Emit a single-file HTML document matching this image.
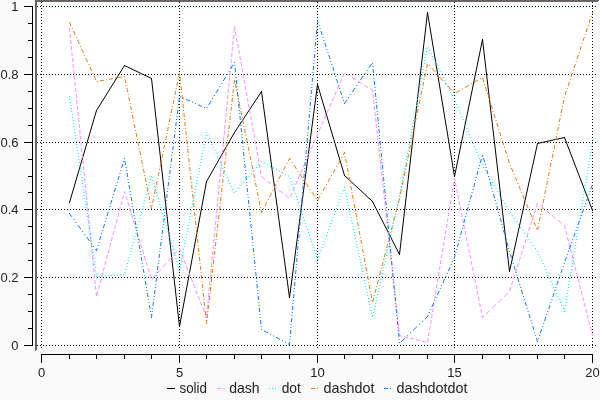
<!DOCTYPE html><html><head><meta charset="utf-8"><style>html,body{margin:0;padding:0;background:#fafafa;width:600px;height:400px;overflow:hidden;position:relative}svg,canvas{display:block;position:absolute;left:0;top:0;will-change:transform}text{font-family:"Liberation Sans",sans-serif;fill:#222222}</style></head><body>
<svg width="600" height="400" viewBox="0 0 600 400">
<rect x="35" y="0" width="563" height="350" fill="#ffffff"/>
<path fill="#000" d="M37 345h1v1h-1zM40 345h1v1h-1zM43 345h1v1h-1zM46 345h1v1h-1zM49 345h1v1h-1zM52 345h1v1h-1zM55 345h1v1h-1zM58 345h1v1h-1zM61 345h1v1h-1zM64 345h1v1h-1zM67 345h1v1h-1zM70 345h1v1h-1zM73 345h1v1h-1zM76 345h1v1h-1zM79 345h1v1h-1zM82 345h1v1h-1zM85 345h1v1h-1zM88 345h1v1h-1zM91 345h1v1h-1zM94 345h1v1h-1zM97 345h1v1h-1zM100 345h1v1h-1zM103 345h1v1h-1zM106 345h1v1h-1zM109 345h1v1h-1zM112 345h1v1h-1zM115 345h1v1h-1zM118 345h1v1h-1zM121 345h1v1h-1zM124 345h1v1h-1zM127 345h1v1h-1zM130 345h1v1h-1zM133 345h1v1h-1zM136 345h1v1h-1zM139 345h1v1h-1zM142 345h1v1h-1zM145 345h1v1h-1zM148 345h1v1h-1zM151 345h1v1h-1zM154 345h1v1h-1zM157 345h1v1h-1zM160 345h1v1h-1zM163 345h1v1h-1zM166 345h1v1h-1zM169 345h1v1h-1zM172 345h1v1h-1zM175 345h1v1h-1zM178 345h1v1h-1zM181 345h1v1h-1zM184 345h1v1h-1zM187 345h1v1h-1zM190 345h1v1h-1zM193 345h1v1h-1zM196 345h1v1h-1zM199 345h1v1h-1zM202 345h1v1h-1zM205 345h1v1h-1zM208 345h1v1h-1zM211 345h1v1h-1zM214 345h1v1h-1zM217 345h1v1h-1zM220 345h1v1h-1zM223 345h1v1h-1zM226 345h1v1h-1zM229 345h1v1h-1zM232 345h1v1h-1zM235 345h1v1h-1zM238 345h1v1h-1zM241 345h1v1h-1zM244 345h1v1h-1zM247 345h1v1h-1zM250 345h1v1h-1zM253 345h1v1h-1zM256 345h1v1h-1zM259 345h1v1h-1zM262 345h1v1h-1zM265 345h1v1h-1zM268 345h1v1h-1zM271 345h1v1h-1zM274 345h1v1h-1zM277 345h1v1h-1zM280 345h1v1h-1zM283 345h1v1h-1zM286 345h1v1h-1zM289 345h1v1h-1zM292 345h1v1h-1zM295 345h1v1h-1zM298 345h1v1h-1zM301 345h1v1h-1zM304 345h1v1h-1zM307 345h1v1h-1zM310 345h1v1h-1zM313 345h1v1h-1zM316 345h1v1h-1zM319 345h1v1h-1zM322 345h1v1h-1zM325 345h1v1h-1zM328 345h1v1h-1zM331 345h1v1h-1zM334 345h1v1h-1zM337 345h1v1h-1zM340 345h1v1h-1zM343 345h1v1h-1zM346 345h1v1h-1zM349 345h1v1h-1zM352 345h1v1h-1zM355 345h1v1h-1zM358 345h1v1h-1zM361 345h1v1h-1zM364 345h1v1h-1zM367 345h1v1h-1zM370 345h1v1h-1zM373 345h1v1h-1zM376 345h1v1h-1zM379 345h1v1h-1zM382 345h1v1h-1zM385 345h1v1h-1zM388 345h1v1h-1zM391 345h1v1h-1zM394 345h1v1h-1zM397 345h1v1h-1zM400 345h1v1h-1zM403 345h1v1h-1zM406 345h1v1h-1zM409 345h1v1h-1zM412 345h1v1h-1zM415 345h1v1h-1zM418 345h1v1h-1zM421 345h1v1h-1zM424 345h1v1h-1zM427 345h1v1h-1zM430 345h1v1h-1zM433 345h1v1h-1zM436 345h1v1h-1zM439 345h1v1h-1zM442 345h1v1h-1zM445 345h1v1h-1zM448 345h1v1h-1zM451 345h1v1h-1zM454 345h1v1h-1zM457 345h1v1h-1zM460 345h1v1h-1zM463 345h1v1h-1zM466 345h1v1h-1zM469 345h1v1h-1zM472 345h1v1h-1zM475 345h1v1h-1zM478 345h1v1h-1zM481 345h1v1h-1zM484 345h1v1h-1zM487 345h1v1h-1zM490 345h1v1h-1zM493 345h1v1h-1zM496 345h1v1h-1zM499 345h1v1h-1zM502 345h1v1h-1zM505 345h1v1h-1zM508 345h1v1h-1zM511 345h1v1h-1zM514 345h1v1h-1zM517 345h1v1h-1zM520 345h1v1h-1zM523 345h1v1h-1zM526 345h1v1h-1zM529 345h1v1h-1zM532 345h1v1h-1zM535 345h1v1h-1zM538 345h1v1h-1zM541 345h1v1h-1zM544 345h1v1h-1zM547 345h1v1h-1zM550 345h1v1h-1zM553 345h1v1h-1zM556 345h1v1h-1zM559 345h1v1h-1zM562 345h1v1h-1zM565 345h1v1h-1zM568 345h1v1h-1zM571 345h1v1h-1zM574 345h1v1h-1zM577 345h1v1h-1zM580 345h1v1h-1zM583 345h1v1h-1zM586 345h1v1h-1zM589 345h1v1h-1zM592 345h1v1h-1zM595 345h1v1h-1zM37 277h1v1h-1zM40 277h1v1h-1zM43 277h1v1h-1zM46 277h1v1h-1zM49 277h1v1h-1zM52 277h1v1h-1zM55 277h1v1h-1zM58 277h1v1h-1zM61 277h1v1h-1zM64 277h1v1h-1zM67 277h1v1h-1zM70 277h1v1h-1zM73 277h1v1h-1zM76 277h1v1h-1zM79 277h1v1h-1zM82 277h1v1h-1zM85 277h1v1h-1zM88 277h1v1h-1zM91 277h1v1h-1zM94 277h1v1h-1zM97 277h1v1h-1zM100 277h1v1h-1zM103 277h1v1h-1zM106 277h1v1h-1zM109 277h1v1h-1zM112 277h1v1h-1zM115 277h1v1h-1zM118 277h1v1h-1zM121 277h1v1h-1zM124 277h1v1h-1zM127 277h1v1h-1zM130 277h1v1h-1zM133 277h1v1h-1zM136 277h1v1h-1zM139 277h1v1h-1zM142 277h1v1h-1zM145 277h1v1h-1zM148 277h1v1h-1zM151 277h1v1h-1zM154 277h1v1h-1zM157 277h1v1h-1zM160 277h1v1h-1zM163 277h1v1h-1zM166 277h1v1h-1zM169 277h1v1h-1zM172 277h1v1h-1zM175 277h1v1h-1zM178 277h1v1h-1zM181 277h1v1h-1zM184 277h1v1h-1zM187 277h1v1h-1zM190 277h1v1h-1zM193 277h1v1h-1zM196 277h1v1h-1zM199 277h1v1h-1zM202 277h1v1h-1zM205 277h1v1h-1zM208 277h1v1h-1zM211 277h1v1h-1zM214 277h1v1h-1zM217 277h1v1h-1zM220 277h1v1h-1zM223 277h1v1h-1zM226 277h1v1h-1zM229 277h1v1h-1zM232 277h1v1h-1zM235 277h1v1h-1zM238 277h1v1h-1zM241 277h1v1h-1zM244 277h1v1h-1zM247 277h1v1h-1zM250 277h1v1h-1zM253 277h1v1h-1zM256 277h1v1h-1zM259 277h1v1h-1zM262 277h1v1h-1zM265 277h1v1h-1zM268 277h1v1h-1zM271 277h1v1h-1zM274 277h1v1h-1zM277 277h1v1h-1zM280 277h1v1h-1zM283 277h1v1h-1zM286 277h1v1h-1zM289 277h1v1h-1zM292 277h1v1h-1zM295 277h1v1h-1zM298 277h1v1h-1zM301 277h1v1h-1zM304 277h1v1h-1zM307 277h1v1h-1zM310 277h1v1h-1zM313 277h1v1h-1zM316 277h1v1h-1zM319 277h1v1h-1zM322 277h1v1h-1zM325 277h1v1h-1zM328 277h1v1h-1zM331 277h1v1h-1zM334 277h1v1h-1zM337 277h1v1h-1zM340 277h1v1h-1zM343 277h1v1h-1zM346 277h1v1h-1zM349 277h1v1h-1zM352 277h1v1h-1zM355 277h1v1h-1zM358 277h1v1h-1zM361 277h1v1h-1zM364 277h1v1h-1zM367 277h1v1h-1zM370 277h1v1h-1zM373 277h1v1h-1zM376 277h1v1h-1zM379 277h1v1h-1zM382 277h1v1h-1zM385 277h1v1h-1zM388 277h1v1h-1zM391 277h1v1h-1zM394 277h1v1h-1zM397 277h1v1h-1zM400 277h1v1h-1zM403 277h1v1h-1zM406 277h1v1h-1zM409 277h1v1h-1zM412 277h1v1h-1zM415 277h1v1h-1zM418 277h1v1h-1zM421 277h1v1h-1zM424 277h1v1h-1zM427 277h1v1h-1zM430 277h1v1h-1zM433 277h1v1h-1zM436 277h1v1h-1zM439 277h1v1h-1zM442 277h1v1h-1zM445 277h1v1h-1zM448 277h1v1h-1zM451 277h1v1h-1zM454 277h1v1h-1zM457 277h1v1h-1zM460 277h1v1h-1zM463 277h1v1h-1zM466 277h1v1h-1zM469 277h1v1h-1zM472 277h1v1h-1zM475 277h1v1h-1zM478 277h1v1h-1zM481 277h1v1h-1zM484 277h1v1h-1zM487 277h1v1h-1zM490 277h1v1h-1zM493 277h1v1h-1zM496 277h1v1h-1zM499 277h1v1h-1zM502 277h1v1h-1zM505 277h1v1h-1zM508 277h1v1h-1zM511 277h1v1h-1zM514 277h1v1h-1zM517 277h1v1h-1zM520 277h1v1h-1zM523 277h1v1h-1zM526 277h1v1h-1zM529 277h1v1h-1zM532 277h1v1h-1zM535 277h1v1h-1zM538 277h1v1h-1zM541 277h1v1h-1zM544 277h1v1h-1zM547 277h1v1h-1zM550 277h1v1h-1zM553 277h1v1h-1zM556 277h1v1h-1zM559 277h1v1h-1zM562 277h1v1h-1zM565 277h1v1h-1zM568 277h1v1h-1zM571 277h1v1h-1zM574 277h1v1h-1zM577 277h1v1h-1zM580 277h1v1h-1zM583 277h1v1h-1zM586 277h1v1h-1zM589 277h1v1h-1zM592 277h1v1h-1zM595 277h1v1h-1zM37 209h1v1h-1zM40 209h1v1h-1zM43 209h1v1h-1zM46 209h1v1h-1zM49 209h1v1h-1zM52 209h1v1h-1zM55 209h1v1h-1zM58 209h1v1h-1zM61 209h1v1h-1zM64 209h1v1h-1zM67 209h1v1h-1zM70 209h1v1h-1zM73 209h1v1h-1zM76 209h1v1h-1zM79 209h1v1h-1zM82 209h1v1h-1zM85 209h1v1h-1zM88 209h1v1h-1zM91 209h1v1h-1zM94 209h1v1h-1zM97 209h1v1h-1zM100 209h1v1h-1zM103 209h1v1h-1zM106 209h1v1h-1zM109 209h1v1h-1zM112 209h1v1h-1zM115 209h1v1h-1zM118 209h1v1h-1zM121 209h1v1h-1zM124 209h1v1h-1zM127 209h1v1h-1zM130 209h1v1h-1zM133 209h1v1h-1zM136 209h1v1h-1zM139 209h1v1h-1zM142 209h1v1h-1zM145 209h1v1h-1zM148 209h1v1h-1zM151 209h1v1h-1zM154 209h1v1h-1zM157 209h1v1h-1zM160 209h1v1h-1zM163 209h1v1h-1zM166 209h1v1h-1zM169 209h1v1h-1zM172 209h1v1h-1zM175 209h1v1h-1zM178 209h1v1h-1zM181 209h1v1h-1zM184 209h1v1h-1zM187 209h1v1h-1zM190 209h1v1h-1zM193 209h1v1h-1zM196 209h1v1h-1zM199 209h1v1h-1zM202 209h1v1h-1zM205 209h1v1h-1zM208 209h1v1h-1zM211 209h1v1h-1zM214 209h1v1h-1zM217 209h1v1h-1zM220 209h1v1h-1zM223 209h1v1h-1zM226 209h1v1h-1zM229 209h1v1h-1zM232 209h1v1h-1zM235 209h1v1h-1zM238 209h1v1h-1zM241 209h1v1h-1zM244 209h1v1h-1zM247 209h1v1h-1zM250 209h1v1h-1zM253 209h1v1h-1zM256 209h1v1h-1zM259 209h1v1h-1zM262 209h1v1h-1zM265 209h1v1h-1zM268 209h1v1h-1zM271 209h1v1h-1zM274 209h1v1h-1zM277 209h1v1h-1zM280 209h1v1h-1zM283 209h1v1h-1zM286 209h1v1h-1zM289 209h1v1h-1zM292 209h1v1h-1zM295 209h1v1h-1zM298 209h1v1h-1zM301 209h1v1h-1zM304 209h1v1h-1zM307 209h1v1h-1zM310 209h1v1h-1zM313 209h1v1h-1zM316 209h1v1h-1zM319 209h1v1h-1zM322 209h1v1h-1zM325 209h1v1h-1zM328 209h1v1h-1zM331 209h1v1h-1zM334 209h1v1h-1zM337 209h1v1h-1zM340 209h1v1h-1zM343 209h1v1h-1zM346 209h1v1h-1zM349 209h1v1h-1zM352 209h1v1h-1zM355 209h1v1h-1zM358 209h1v1h-1zM361 209h1v1h-1zM364 209h1v1h-1zM367 209h1v1h-1zM370 209h1v1h-1zM373 209h1v1h-1zM376 209h1v1h-1zM379 209h1v1h-1zM382 209h1v1h-1zM385 209h1v1h-1zM388 209h1v1h-1zM391 209h1v1h-1zM394 209h1v1h-1zM397 209h1v1h-1zM400 209h1v1h-1zM403 209h1v1h-1zM406 209h1v1h-1zM409 209h1v1h-1zM412 209h1v1h-1zM415 209h1v1h-1zM418 209h1v1h-1zM421 209h1v1h-1zM424 209h1v1h-1zM427 209h1v1h-1zM430 209h1v1h-1zM433 209h1v1h-1zM436 209h1v1h-1zM439 209h1v1h-1zM442 209h1v1h-1zM445 209h1v1h-1zM448 209h1v1h-1zM451 209h1v1h-1zM454 209h1v1h-1zM457 209h1v1h-1zM460 209h1v1h-1zM463 209h1v1h-1zM466 209h1v1h-1zM469 209h1v1h-1zM472 209h1v1h-1zM475 209h1v1h-1zM478 209h1v1h-1zM481 209h1v1h-1zM484 209h1v1h-1zM487 209h1v1h-1zM490 209h1v1h-1zM493 209h1v1h-1zM496 209h1v1h-1zM499 209h1v1h-1zM502 209h1v1h-1zM505 209h1v1h-1zM508 209h1v1h-1zM511 209h1v1h-1zM514 209h1v1h-1zM517 209h1v1h-1zM520 209h1v1h-1zM523 209h1v1h-1zM526 209h1v1h-1zM529 209h1v1h-1zM532 209h1v1h-1zM535 209h1v1h-1zM538 209h1v1h-1zM541 209h1v1h-1zM544 209h1v1h-1zM547 209h1v1h-1zM550 209h1v1h-1zM553 209h1v1h-1zM556 209h1v1h-1zM559 209h1v1h-1zM562 209h1v1h-1zM565 209h1v1h-1zM568 209h1v1h-1zM571 209h1v1h-1zM574 209h1v1h-1zM577 209h1v1h-1zM580 209h1v1h-1zM583 209h1v1h-1zM586 209h1v1h-1zM589 209h1v1h-1zM592 209h1v1h-1zM595 209h1v1h-1zM37 142h1v1h-1zM40 142h1v1h-1zM43 142h1v1h-1zM46 142h1v1h-1zM49 142h1v1h-1zM52 142h1v1h-1zM55 142h1v1h-1zM58 142h1v1h-1zM61 142h1v1h-1zM64 142h1v1h-1zM67 142h1v1h-1zM70 142h1v1h-1zM73 142h1v1h-1zM76 142h1v1h-1zM79 142h1v1h-1zM82 142h1v1h-1zM85 142h1v1h-1zM88 142h1v1h-1zM91 142h1v1h-1zM94 142h1v1h-1zM97 142h1v1h-1zM100 142h1v1h-1zM103 142h1v1h-1zM106 142h1v1h-1zM109 142h1v1h-1zM112 142h1v1h-1zM115 142h1v1h-1zM118 142h1v1h-1zM121 142h1v1h-1zM124 142h1v1h-1zM127 142h1v1h-1zM130 142h1v1h-1zM133 142h1v1h-1zM136 142h1v1h-1zM139 142h1v1h-1zM142 142h1v1h-1zM145 142h1v1h-1zM148 142h1v1h-1zM151 142h1v1h-1zM154 142h1v1h-1zM157 142h1v1h-1zM160 142h1v1h-1zM163 142h1v1h-1zM166 142h1v1h-1zM169 142h1v1h-1zM172 142h1v1h-1zM175 142h1v1h-1zM178 142h1v1h-1zM181 142h1v1h-1zM184 142h1v1h-1zM187 142h1v1h-1zM190 142h1v1h-1zM193 142h1v1h-1zM196 142h1v1h-1zM199 142h1v1h-1zM202 142h1v1h-1zM205 142h1v1h-1zM208 142h1v1h-1zM211 142h1v1h-1zM214 142h1v1h-1zM217 142h1v1h-1zM220 142h1v1h-1zM223 142h1v1h-1zM226 142h1v1h-1zM229 142h1v1h-1zM232 142h1v1h-1zM235 142h1v1h-1zM238 142h1v1h-1zM241 142h1v1h-1zM244 142h1v1h-1zM247 142h1v1h-1zM250 142h1v1h-1zM253 142h1v1h-1zM256 142h1v1h-1zM259 142h1v1h-1zM262 142h1v1h-1zM265 142h1v1h-1zM268 142h1v1h-1zM271 142h1v1h-1zM274 142h1v1h-1zM277 142h1v1h-1zM280 142h1v1h-1zM283 142h1v1h-1zM286 142h1v1h-1zM289 142h1v1h-1zM292 142h1v1h-1zM295 142h1v1h-1zM298 142h1v1h-1zM301 142h1v1h-1zM304 142h1v1h-1zM307 142h1v1h-1zM310 142h1v1h-1zM313 142h1v1h-1zM316 142h1v1h-1zM319 142h1v1h-1zM322 142h1v1h-1zM325 142h1v1h-1zM328 142h1v1h-1zM331 142h1v1h-1zM334 142h1v1h-1zM337 142h1v1h-1zM340 142h1v1h-1zM343 142h1v1h-1zM346 142h1v1h-1zM349 142h1v1h-1zM352 142h1v1h-1zM355 142h1v1h-1zM358 142h1v1h-1zM361 142h1v1h-1zM364 142h1v1h-1zM367 142h1v1h-1zM370 142h1v1h-1zM373 142h1v1h-1zM376 142h1v1h-1zM379 142h1v1h-1zM382 142h1v1h-1zM385 142h1v1h-1zM388 142h1v1h-1zM391 142h1v1h-1zM394 142h1v1h-1zM397 142h1v1h-1zM400 142h1v1h-1zM403 142h1v1h-1zM406 142h1v1h-1zM409 142h1v1h-1zM412 142h1v1h-1zM415 142h1v1h-1zM418 142h1v1h-1zM421 142h1v1h-1zM424 142h1v1h-1zM427 142h1v1h-1zM430 142h1v1h-1zM433 142h1v1h-1zM436 142h1v1h-1zM439 142h1v1h-1zM442 142h1v1h-1zM445 142h1v1h-1zM448 142h1v1h-1zM451 142h1v1h-1zM454 142h1v1h-1zM457 142h1v1h-1zM460 142h1v1h-1zM463 142h1v1h-1zM466 142h1v1h-1zM469 142h1v1h-1zM472 142h1v1h-1zM475 142h1v1h-1zM478 142h1v1h-1zM481 142h1v1h-1zM484 142h1v1h-1zM487 142h1v1h-1zM490 142h1v1h-1zM493 142h1v1h-1zM496 142h1v1h-1zM499 142h1v1h-1zM502 142h1v1h-1zM505 142h1v1h-1zM508 142h1v1h-1zM511 142h1v1h-1zM514 142h1v1h-1zM517 142h1v1h-1zM520 142h1v1h-1zM523 142h1v1h-1zM526 142h1v1h-1zM529 142h1v1h-1zM532 142h1v1h-1zM535 142h1v1h-1zM538 142h1v1h-1zM541 142h1v1h-1zM544 142h1v1h-1zM547 142h1v1h-1zM550 142h1v1h-1zM553 142h1v1h-1zM556 142h1v1h-1zM559 142h1v1h-1zM562 142h1v1h-1zM565 142h1v1h-1zM568 142h1v1h-1zM571 142h1v1h-1zM574 142h1v1h-1zM577 142h1v1h-1zM580 142h1v1h-1zM583 142h1v1h-1zM586 142h1v1h-1zM589 142h1v1h-1zM592 142h1v1h-1zM595 142h1v1h-1zM37 74h1v1h-1zM40 74h1v1h-1zM43 74h1v1h-1zM46 74h1v1h-1zM49 74h1v1h-1zM52 74h1v1h-1zM55 74h1v1h-1zM58 74h1v1h-1zM61 74h1v1h-1zM64 74h1v1h-1zM67 74h1v1h-1zM70 74h1v1h-1zM73 74h1v1h-1zM76 74h1v1h-1zM79 74h1v1h-1zM82 74h1v1h-1zM85 74h1v1h-1zM88 74h1v1h-1zM91 74h1v1h-1zM94 74h1v1h-1zM97 74h1v1h-1zM100 74h1v1h-1zM103 74h1v1h-1zM106 74h1v1h-1zM109 74h1v1h-1zM112 74h1v1h-1zM115 74h1v1h-1zM118 74h1v1h-1zM121 74h1v1h-1zM124 74h1v1h-1zM127 74h1v1h-1zM130 74h1v1h-1zM133 74h1v1h-1zM136 74h1v1h-1zM139 74h1v1h-1zM142 74h1v1h-1zM145 74h1v1h-1zM148 74h1v1h-1zM151 74h1v1h-1zM154 74h1v1h-1zM157 74h1v1h-1zM160 74h1v1h-1zM163 74h1v1h-1zM166 74h1v1h-1zM169 74h1v1h-1zM172 74h1v1h-1zM175 74h1v1h-1zM178 74h1v1h-1zM181 74h1v1h-1zM184 74h1v1h-1zM187 74h1v1h-1zM190 74h1v1h-1zM193 74h1v1h-1zM196 74h1v1h-1zM199 74h1v1h-1zM202 74h1v1h-1zM205 74h1v1h-1zM208 74h1v1h-1zM211 74h1v1h-1zM214 74h1v1h-1zM217 74h1v1h-1zM220 74h1v1h-1zM223 74h1v1h-1zM226 74h1v1h-1zM229 74h1v1h-1zM232 74h1v1h-1zM235 74h1v1h-1zM238 74h1v1h-1zM241 74h1v1h-1zM244 74h1v1h-1zM247 74h1v1h-1zM250 74h1v1h-1zM253 74h1v1h-1zM256 74h1v1h-1zM259 74h1v1h-1zM262 74h1v1h-1zM265 74h1v1h-1zM268 74h1v1h-1zM271 74h1v1h-1zM274 74h1v1h-1zM277 74h1v1h-1zM280 74h1v1h-1zM283 74h1v1h-1zM286 74h1v1h-1zM289 74h1v1h-1zM292 74h1v1h-1zM295 74h1v1h-1zM298 74h1v1h-1zM301 74h1v1h-1zM304 74h1v1h-1zM307 74h1v1h-1zM310 74h1v1h-1zM313 74h1v1h-1zM316 74h1v1h-1zM319 74h1v1h-1zM322 74h1v1h-1zM325 74h1v1h-1zM328 74h1v1h-1zM331 74h1v1h-1zM334 74h1v1h-1zM337 74h1v1h-1zM340 74h1v1h-1zM343 74h1v1h-1zM346 74h1v1h-1zM349 74h1v1h-1zM352 74h1v1h-1zM355 74h1v1h-1zM358 74h1v1h-1zM361 74h1v1h-1zM364 74h1v1h-1zM367 74h1v1h-1zM370 74h1v1h-1zM373 74h1v1h-1zM376 74h1v1h-1zM379 74h1v1h-1zM382 74h1v1h-1zM385 74h1v1h-1zM388 74h1v1h-1zM391 74h1v1h-1zM394 74h1v1h-1zM397 74h1v1h-1zM400 74h1v1h-1zM403 74h1v1h-1zM406 74h1v1h-1zM409 74h1v1h-1zM412 74h1v1h-1zM415 74h1v1h-1zM418 74h1v1h-1zM421 74h1v1h-1zM424 74h1v1h-1zM427 74h1v1h-1zM430 74h1v1h-1zM433 74h1v1h-1zM436 74h1v1h-1zM439 74h1v1h-1zM442 74h1v1h-1zM445 74h1v1h-1zM448 74h1v1h-1zM451 74h1v1h-1zM454 74h1v1h-1zM457 74h1v1h-1zM460 74h1v1h-1zM463 74h1v1h-1zM466 74h1v1h-1zM469 74h1v1h-1zM472 74h1v1h-1zM475 74h1v1h-1zM478 74h1v1h-1zM481 74h1v1h-1zM484 74h1v1h-1zM487 74h1v1h-1zM490 74h1v1h-1zM493 74h1v1h-1zM496 74h1v1h-1zM499 74h1v1h-1zM502 74h1v1h-1zM505 74h1v1h-1zM508 74h1v1h-1zM511 74h1v1h-1zM514 74h1v1h-1zM517 74h1v1h-1zM520 74h1v1h-1zM523 74h1v1h-1zM526 74h1v1h-1zM529 74h1v1h-1zM532 74h1v1h-1zM535 74h1v1h-1zM538 74h1v1h-1zM541 74h1v1h-1zM544 74h1v1h-1zM547 74h1v1h-1zM550 74h1v1h-1zM553 74h1v1h-1zM556 74h1v1h-1zM559 74h1v1h-1zM562 74h1v1h-1zM565 74h1v1h-1zM568 74h1v1h-1zM571 74h1v1h-1zM574 74h1v1h-1zM577 74h1v1h-1zM580 74h1v1h-1zM583 74h1v1h-1zM586 74h1v1h-1zM589 74h1v1h-1zM592 74h1v1h-1zM595 74h1v1h-1zM37 6h1v1h-1zM40 6h1v1h-1zM43 6h1v1h-1zM46 6h1v1h-1zM49 6h1v1h-1zM52 6h1v1h-1zM55 6h1v1h-1zM58 6h1v1h-1zM61 6h1v1h-1zM64 6h1v1h-1zM67 6h1v1h-1zM70 6h1v1h-1zM73 6h1v1h-1zM76 6h1v1h-1zM79 6h1v1h-1zM82 6h1v1h-1zM85 6h1v1h-1zM88 6h1v1h-1zM91 6h1v1h-1zM94 6h1v1h-1zM97 6h1v1h-1zM100 6h1v1h-1zM103 6h1v1h-1zM106 6h1v1h-1zM109 6h1v1h-1zM112 6h1v1h-1zM115 6h1v1h-1zM118 6h1v1h-1zM121 6h1v1h-1zM124 6h1v1h-1zM127 6h1v1h-1zM130 6h1v1h-1zM133 6h1v1h-1zM136 6h1v1h-1zM139 6h1v1h-1zM142 6h1v1h-1zM145 6h1v1h-1zM148 6h1v1h-1zM151 6h1v1h-1zM154 6h1v1h-1zM157 6h1v1h-1zM160 6h1v1h-1zM163 6h1v1h-1zM166 6h1v1h-1zM169 6h1v1h-1zM172 6h1v1h-1zM175 6h1v1h-1zM178 6h1v1h-1zM181 6h1v1h-1zM184 6h1v1h-1zM187 6h1v1h-1zM190 6h1v1h-1zM193 6h1v1h-1zM196 6h1v1h-1zM199 6h1v1h-1zM202 6h1v1h-1zM205 6h1v1h-1zM208 6h1v1h-1zM211 6h1v1h-1zM214 6h1v1h-1zM217 6h1v1h-1zM220 6h1v1h-1zM223 6h1v1h-1zM226 6h1v1h-1zM229 6h1v1h-1zM232 6h1v1h-1zM235 6h1v1h-1zM238 6h1v1h-1zM241 6h1v1h-1zM244 6h1v1h-1zM247 6h1v1h-1zM250 6h1v1h-1zM253 6h1v1h-1zM256 6h1v1h-1zM259 6h1v1h-1zM262 6h1v1h-1zM265 6h1v1h-1zM268 6h1v1h-1zM271 6h1v1h-1zM274 6h1v1h-1zM277 6h1v1h-1zM280 6h1v1h-1zM283 6h1v1h-1zM286 6h1v1h-1zM289 6h1v1h-1zM292 6h1v1h-1zM295 6h1v1h-1zM298 6h1v1h-1zM301 6h1v1h-1zM304 6h1v1h-1zM307 6h1v1h-1zM310 6h1v1h-1zM313 6h1v1h-1zM316 6h1v1h-1zM319 6h1v1h-1zM322 6h1v1h-1zM325 6h1v1h-1zM328 6h1v1h-1zM331 6h1v1h-1zM334 6h1v1h-1zM337 6h1v1h-1zM340 6h1v1h-1zM343 6h1v1h-1zM346 6h1v1h-1zM349 6h1v1h-1zM352 6h1v1h-1zM355 6h1v1h-1zM358 6h1v1h-1zM361 6h1v1h-1zM364 6h1v1h-1zM367 6h1v1h-1zM370 6h1v1h-1zM373 6h1v1h-1zM376 6h1v1h-1zM379 6h1v1h-1zM382 6h1v1h-1zM385 6h1v1h-1zM388 6h1v1h-1zM391 6h1v1h-1zM394 6h1v1h-1zM397 6h1v1h-1zM400 6h1v1h-1zM403 6h1v1h-1zM406 6h1v1h-1zM409 6h1v1h-1zM412 6h1v1h-1zM415 6h1v1h-1zM418 6h1v1h-1zM421 6h1v1h-1zM424 6h1v1h-1zM427 6h1v1h-1zM430 6h1v1h-1zM433 6h1v1h-1zM436 6h1v1h-1zM439 6h1v1h-1zM442 6h1v1h-1zM445 6h1v1h-1zM448 6h1v1h-1zM451 6h1v1h-1zM454 6h1v1h-1zM457 6h1v1h-1zM460 6h1v1h-1zM463 6h1v1h-1zM466 6h1v1h-1zM469 6h1v1h-1zM472 6h1v1h-1zM475 6h1v1h-1zM478 6h1v1h-1zM481 6h1v1h-1zM484 6h1v1h-1zM487 6h1v1h-1zM490 6h1v1h-1zM493 6h1v1h-1zM496 6h1v1h-1zM499 6h1v1h-1zM502 6h1v1h-1zM505 6h1v1h-1zM508 6h1v1h-1zM511 6h1v1h-1zM514 6h1v1h-1zM517 6h1v1h-1zM520 6h1v1h-1zM523 6h1v1h-1zM526 6h1v1h-1zM529 6h1v1h-1zM532 6h1v1h-1zM535 6h1v1h-1zM538 6h1v1h-1zM541 6h1v1h-1zM544 6h1v1h-1zM547 6h1v1h-1zM550 6h1v1h-1zM553 6h1v1h-1zM556 6h1v1h-1zM559 6h1v1h-1zM562 6h1v1h-1zM565 6h1v1h-1zM568 6h1v1h-1zM571 6h1v1h-1zM574 6h1v1h-1zM577 6h1v1h-1zM580 6h1v1h-1zM583 6h1v1h-1zM586 6h1v1h-1zM589 6h1v1h-1zM592 6h1v1h-1zM595 6h1v1h-1zM41 2h1v1h-1zM41 5h1v1h-1zM41 8h1v1h-1zM41 11h1v1h-1zM41 14h1v1h-1zM41 17h1v1h-1zM41 20h1v1h-1zM41 23h1v1h-1zM41 26h1v1h-1zM41 29h1v1h-1zM41 32h1v1h-1zM41 35h1v1h-1zM41 38h1v1h-1zM41 41h1v1h-1zM41 44h1v1h-1zM41 47h1v1h-1zM41 50h1v1h-1zM41 53h1v1h-1zM41 56h1v1h-1zM41 59h1v1h-1zM41 62h1v1h-1zM41 65h1v1h-1zM41 68h1v1h-1zM41 71h1v1h-1zM41 74h1v1h-1zM41 77h1v1h-1zM41 80h1v1h-1zM41 83h1v1h-1zM41 86h1v1h-1zM41 89h1v1h-1zM41 92h1v1h-1zM41 95h1v1h-1zM41 98h1v1h-1zM41 101h1v1h-1zM41 104h1v1h-1zM41 107h1v1h-1zM41 110h1v1h-1zM41 113h1v1h-1zM41 116h1v1h-1zM41 119h1v1h-1zM41 122h1v1h-1zM41 125h1v1h-1zM41 128h1v1h-1zM41 131h1v1h-1zM41 134h1v1h-1zM41 137h1v1h-1zM41 140h1v1h-1zM41 143h1v1h-1zM41 146h1v1h-1zM41 149h1v1h-1zM41 152h1v1h-1zM41 155h1v1h-1zM41 158h1v1h-1zM41 161h1v1h-1zM41 164h1v1h-1zM41 167h1v1h-1zM41 170h1v1h-1zM41 173h1v1h-1zM41 176h1v1h-1zM41 179h1v1h-1zM41 182h1v1h-1zM41 185h1v1h-1zM41 188h1v1h-1zM41 191h1v1h-1zM41 194h1v1h-1zM41 197h1v1h-1zM41 200h1v1h-1zM41 203h1v1h-1zM41 206h1v1h-1zM41 209h1v1h-1zM41 212h1v1h-1zM41 215h1v1h-1zM41 218h1v1h-1zM41 221h1v1h-1zM41 224h1v1h-1zM41 227h1v1h-1zM41 230h1v1h-1zM41 233h1v1h-1zM41 236h1v1h-1zM41 239h1v1h-1zM41 242h1v1h-1zM41 245h1v1h-1zM41 248h1v1h-1zM41 251h1v1h-1zM41 254h1v1h-1zM41 257h1v1h-1zM41 260h1v1h-1zM41 263h1v1h-1zM41 266h1v1h-1zM41 269h1v1h-1zM41 272h1v1h-1zM41 275h1v1h-1zM41 278h1v1h-1zM41 281h1v1h-1zM41 284h1v1h-1zM41 287h1v1h-1zM41 290h1v1h-1zM41 293h1v1h-1zM41 296h1v1h-1zM41 299h1v1h-1zM41 302h1v1h-1zM41 305h1v1h-1zM41 308h1v1h-1zM41 311h1v1h-1zM41 314h1v1h-1zM41 317h1v1h-1zM41 320h1v1h-1zM41 323h1v1h-1zM41 326h1v1h-1zM41 329h1v1h-1zM41 332h1v1h-1zM41 335h1v1h-1zM41 338h1v1h-1zM41 341h1v1h-1zM41 344h1v1h-1zM41 347h1v1h-1zM179 2h1v1h-1zM179 5h1v1h-1zM179 8h1v1h-1zM179 11h1v1h-1zM179 14h1v1h-1zM179 17h1v1h-1zM179 20h1v1h-1zM179 23h1v1h-1zM179 26h1v1h-1zM179 29h1v1h-1zM179 32h1v1h-1zM179 35h1v1h-1zM179 38h1v1h-1zM179 41h1v1h-1zM179 44h1v1h-1zM179 47h1v1h-1zM179 50h1v1h-1zM179 53h1v1h-1zM179 56h1v1h-1zM179 59h1v1h-1zM179 62h1v1h-1zM179 65h1v1h-1zM179 68h1v1h-1zM179 71h1v1h-1zM179 74h1v1h-1zM179 77h1v1h-1zM179 80h1v1h-1zM179 83h1v1h-1zM179 86h1v1h-1zM179 89h1v1h-1zM179 92h1v1h-1zM179 95h1v1h-1zM179 98h1v1h-1zM179 101h1v1h-1zM179 104h1v1h-1zM179 107h1v1h-1zM179 110h1v1h-1zM179 113h1v1h-1zM179 116h1v1h-1zM179 119h1v1h-1zM179 122h1v1h-1zM179 125h1v1h-1zM179 128h1v1h-1zM179 131h1v1h-1zM179 134h1v1h-1zM179 137h1v1h-1zM179 140h1v1h-1zM179 143h1v1h-1zM179 146h1v1h-1zM179 149h1v1h-1zM179 152h1v1h-1zM179 155h1v1h-1zM179 158h1v1h-1zM179 161h1v1h-1zM179 164h1v1h-1zM179 167h1v1h-1zM179 170h1v1h-1zM179 173h1v1h-1zM179 176h1v1h-1zM179 179h1v1h-1zM179 182h1v1h-1zM179 185h1v1h-1zM179 188h1v1h-1zM179 191h1v1h-1zM179 194h1v1h-1zM179 197h1v1h-1zM179 200h1v1h-1zM179 203h1v1h-1zM179 206h1v1h-1zM179 209h1v1h-1zM179 212h1v1h-1zM179 215h1v1h-1zM179 218h1v1h-1zM179 221h1v1h-1zM179 224h1v1h-1zM179 227h1v1h-1zM179 230h1v1h-1zM179 233h1v1h-1zM179 236h1v1h-1zM179 239h1v1h-1zM179 242h1v1h-1zM179 245h1v1h-1zM179 248h1v1h-1zM179 251h1v1h-1zM179 254h1v1h-1zM179 257h1v1h-1zM179 260h1v1h-1zM179 263h1v1h-1zM179 266h1v1h-1zM179 269h1v1h-1zM179 272h1v1h-1zM179 275h1v1h-1zM179 278h1v1h-1zM179 281h1v1h-1zM179 284h1v1h-1zM179 287h1v1h-1zM179 290h1v1h-1zM179 293h1v1h-1zM179 296h1v1h-1zM179 299h1v1h-1zM179 302h1v1h-1zM179 305h1v1h-1zM179 308h1v1h-1zM179 311h1v1h-1zM179 314h1v1h-1zM179 317h1v1h-1zM179 320h1v1h-1zM179 323h1v1h-1zM179 326h1v1h-1zM179 329h1v1h-1zM179 332h1v1h-1zM179 335h1v1h-1zM179 338h1v1h-1zM179 341h1v1h-1zM179 344h1v1h-1zM179 347h1v1h-1zM317 2h1v1h-1zM317 5h1v1h-1zM317 8h1v1h-1zM317 11h1v1h-1zM317 14h1v1h-1zM317 17h1v1h-1zM317 20h1v1h-1zM317 23h1v1h-1zM317 26h1v1h-1zM317 29h1v1h-1zM317 32h1v1h-1zM317 35h1v1h-1zM317 38h1v1h-1zM317 41h1v1h-1zM317 44h1v1h-1zM317 47h1v1h-1zM317 50h1v1h-1zM317 53h1v1h-1zM317 56h1v1h-1zM317 59h1v1h-1zM317 62h1v1h-1zM317 65h1v1h-1zM317 68h1v1h-1zM317 71h1v1h-1zM317 74h1v1h-1zM317 77h1v1h-1zM317 80h1v1h-1zM317 83h1v1h-1zM317 86h1v1h-1zM317 89h1v1h-1zM317 92h1v1h-1zM317 95h1v1h-1zM317 98h1v1h-1zM317 101h1v1h-1zM317 104h1v1h-1zM317 107h1v1h-1zM317 110h1v1h-1zM317 113h1v1h-1zM317 116h1v1h-1zM317 119h1v1h-1zM317 122h1v1h-1zM317 125h1v1h-1zM317 128h1v1h-1zM317 131h1v1h-1zM317 134h1v1h-1zM317 137h1v1h-1zM317 140h1v1h-1zM317 143h1v1h-1zM317 146h1v1h-1zM317 149h1v1h-1zM317 152h1v1h-1zM317 155h1v1h-1zM317 158h1v1h-1zM317 161h1v1h-1zM317 164h1v1h-1zM317 167h1v1h-1zM317 170h1v1h-1zM317 173h1v1h-1zM317 176h1v1h-1zM317 179h1v1h-1zM317 182h1v1h-1zM317 185h1v1h-1zM317 188h1v1h-1zM317 191h1v1h-1zM317 194h1v1h-1zM317 197h1v1h-1zM317 200h1v1h-1zM317 203h1v1h-1zM317 206h1v1h-1zM317 209h1v1h-1zM317 212h1v1h-1zM317 215h1v1h-1zM317 218h1v1h-1zM317 221h1v1h-1zM317 224h1v1h-1zM317 227h1v1h-1zM317 230h1v1h-1zM317 233h1v1h-1zM317 236h1v1h-1zM317 239h1v1h-1zM317 242h1v1h-1zM317 245h1v1h-1zM317 248h1v1h-1zM317 251h1v1h-1zM317 254h1v1h-1zM317 257h1v1h-1zM317 260h1v1h-1zM317 263h1v1h-1zM317 266h1v1h-1zM317 269h1v1h-1zM317 272h1v1h-1zM317 275h1v1h-1zM317 278h1v1h-1zM317 281h1v1h-1zM317 284h1v1h-1zM317 287h1v1h-1zM317 290h1v1h-1zM317 293h1v1h-1zM317 296h1v1h-1zM317 299h1v1h-1zM317 302h1v1h-1zM317 305h1v1h-1zM317 308h1v1h-1zM317 311h1v1h-1zM317 314h1v1h-1zM317 317h1v1h-1zM317 320h1v1h-1zM317 323h1v1h-1zM317 326h1v1h-1zM317 329h1v1h-1zM317 332h1v1h-1zM317 335h1v1h-1zM317 338h1v1h-1zM317 341h1v1h-1zM317 344h1v1h-1zM317 347h1v1h-1zM454 2h1v1h-1zM454 5h1v1h-1zM454 8h1v1h-1zM454 11h1v1h-1zM454 14h1v1h-1zM454 17h1v1h-1zM454 20h1v1h-1zM454 23h1v1h-1zM454 26h1v1h-1zM454 29h1v1h-1zM454 32h1v1h-1zM454 35h1v1h-1zM454 38h1v1h-1zM454 41h1v1h-1zM454 44h1v1h-1zM454 47h1v1h-1zM454 50h1v1h-1zM454 53h1v1h-1zM454 56h1v1h-1zM454 59h1v1h-1zM454 62h1v1h-1zM454 65h1v1h-1zM454 68h1v1h-1zM454 71h1v1h-1zM454 74h1v1h-1zM454 77h1v1h-1zM454 80h1v1h-1zM454 83h1v1h-1zM454 86h1v1h-1zM454 89h1v1h-1zM454 92h1v1h-1zM454 95h1v1h-1zM454 98h1v1h-1zM454 101h1v1h-1zM454 104h1v1h-1zM454 107h1v1h-1zM454 110h1v1h-1zM454 113h1v1h-1zM454 116h1v1h-1zM454 119h1v1h-1zM454 122h1v1h-1zM454 125h1v1h-1zM454 128h1v1h-1zM454 131h1v1h-1zM454 134h1v1h-1zM454 137h1v1h-1zM454 140h1v1h-1zM454 143h1v1h-1zM454 146h1v1h-1zM454 149h1v1h-1zM454 152h1v1h-1zM454 155h1v1h-1zM454 158h1v1h-1zM454 161h1v1h-1zM454 164h1v1h-1zM454 167h1v1h-1zM454 170h1v1h-1zM454 173h1v1h-1zM454 176h1v1h-1zM454 179h1v1h-1zM454 182h1v1h-1zM454 185h1v1h-1zM454 188h1v1h-1zM454 191h1v1h-1zM454 194h1v1h-1zM454 197h1v1h-1zM454 200h1v1h-1zM454 203h1v1h-1zM454 206h1v1h-1zM454 209h1v1h-1zM454 212h1v1h-1zM454 215h1v1h-1zM454 218h1v1h-1zM454 221h1v1h-1zM454 224h1v1h-1zM454 227h1v1h-1zM454 230h1v1h-1zM454 233h1v1h-1zM454 236h1v1h-1zM454 239h1v1h-1zM454 242h1v1h-1zM454 245h1v1h-1zM454 248h1v1h-1zM454 251h1v1h-1zM454 254h1v1h-1zM454 257h1v1h-1zM454 260h1v1h-1zM454 263h1v1h-1zM454 266h1v1h-1zM454 269h1v1h-1zM454 272h1v1h-1zM454 275h1v1h-1zM454 278h1v1h-1zM454 281h1v1h-1zM454 284h1v1h-1zM454 287h1v1h-1zM454 290h1v1h-1zM454 293h1v1h-1zM454 296h1v1h-1zM454 299h1v1h-1zM454 302h1v1h-1zM454 305h1v1h-1zM454 308h1v1h-1zM454 311h1v1h-1zM454 314h1v1h-1zM454 317h1v1h-1zM454 320h1v1h-1zM454 323h1v1h-1zM454 326h1v1h-1zM454 329h1v1h-1zM454 332h1v1h-1zM454 335h1v1h-1zM454 338h1v1h-1zM454 341h1v1h-1zM454 344h1v1h-1zM454 347h1v1h-1zM592 2h1v1h-1zM592 5h1v1h-1zM592 8h1v1h-1zM592 11h1v1h-1zM592 14h1v1h-1zM592 17h1v1h-1zM592 20h1v1h-1zM592 23h1v1h-1zM592 26h1v1h-1zM592 29h1v1h-1zM592 32h1v1h-1zM592 35h1v1h-1zM592 38h1v1h-1zM592 41h1v1h-1zM592 44h1v1h-1zM592 47h1v1h-1zM592 50h1v1h-1zM592 53h1v1h-1zM592 56h1v1h-1zM592 59h1v1h-1zM592 62h1v1h-1zM592 65h1v1h-1zM592 68h1v1h-1zM592 71h1v1h-1zM592 74h1v1h-1zM592 77h1v1h-1zM592 80h1v1h-1zM592 83h1v1h-1zM592 86h1v1h-1zM592 89h1v1h-1zM592 92h1v1h-1zM592 95h1v1h-1zM592 98h1v1h-1zM592 101h1v1h-1zM592 104h1v1h-1zM592 107h1v1h-1zM592 110h1v1h-1zM592 113h1v1h-1zM592 116h1v1h-1zM592 119h1v1h-1zM592 122h1v1h-1zM592 125h1v1h-1zM592 128h1v1h-1zM592 131h1v1h-1zM592 134h1v1h-1zM592 137h1v1h-1zM592 140h1v1h-1zM592 143h1v1h-1zM592 146h1v1h-1zM592 149h1v1h-1zM592 152h1v1h-1zM592 155h1v1h-1zM592 158h1v1h-1zM592 161h1v1h-1zM592 164h1v1h-1zM592 167h1v1h-1zM592 170h1v1h-1zM592 173h1v1h-1zM592 176h1v1h-1zM592 179h1v1h-1zM592 182h1v1h-1zM592 185h1v1h-1zM592 188h1v1h-1zM592 191h1v1h-1zM592 194h1v1h-1zM592 197h1v1h-1zM592 200h1v1h-1zM592 203h1v1h-1zM592 206h1v1h-1zM592 209h1v1h-1zM592 212h1v1h-1zM592 215h1v1h-1zM592 218h1v1h-1zM592 221h1v1h-1zM592 224h1v1h-1zM592 227h1v1h-1zM592 230h1v1h-1zM592 233h1v1h-1zM592 236h1v1h-1zM592 239h1v1h-1zM592 242h1v1h-1zM592 245h1v1h-1zM592 248h1v1h-1zM592 251h1v1h-1zM592 254h1v1h-1zM592 257h1v1h-1zM592 260h1v1h-1zM592 263h1v1h-1zM592 266h1v1h-1zM592 269h1v1h-1zM592 272h1v1h-1zM592 275h1v1h-1zM592 278h1v1h-1zM592 281h1v1h-1zM592 284h1v1h-1zM592 287h1v1h-1zM592 290h1v1h-1zM592 293h1v1h-1zM592 296h1v1h-1zM592 299h1v1h-1zM592 302h1v1h-1zM592 305h1v1h-1zM592 308h1v1h-1zM592 311h1v1h-1zM592 314h1v1h-1zM592 317h1v1h-1zM592 320h1v1h-1zM592 323h1v1h-1zM592 326h1v1h-1zM592 329h1v1h-1zM592 332h1v1h-1zM592 335h1v1h-1zM592 338h1v1h-1zM592 341h1v1h-1zM592 344h1v1h-1zM592 347h1v1h-1z"/>
<g id="fb">
<polyline fill="none" stroke="#000000" points="69.5,202.5 96.5,110.5 124.5,65.5 151.5,78.5 179.5,326.5 206.5,181.5 234.5,132.5 261.5,91.5 289.5,297.5 317.5,84.5 344.5,175.5 372.5,201.5 399.5,254.5 427.5,12.5 454.5,176.5 482.5,39.5 509.5,271.5 537.5,143.5 564.5,137.5 592.5,210.5"/>
<g stroke="#ff91ff" fill="none"><line x1="69.5" y1="28.5" x2="96.5" y2="296.5" stroke-dasharray="4.02,2.01" stroke-dashoffset="0.00"/><line x1="96.5" y1="296.5" x2="124.5" y2="191.5" stroke-dasharray="4.14,2.07" stroke-dashoffset="4.14"/><line x1="124.5" y1="191.5" x2="151.5" y2="279.5" stroke-dasharray="4.18,2.09" stroke-dashoffset="1.05"/><line x1="151.5" y1="279.5" x2="179.5" y2="248.5" stroke-dasharray="5.39,2.70" stroke-dashoffset="6.74"/><line x1="179.5" y1="248.5" x2="206.5" y2="317.5" stroke-dasharray="4.30,2.15" stroke-dashoffset="0.00"/><line x1="206.5" y1="317.5" x2="234.5" y2="26.5" stroke-dasharray="4.02,2.01" stroke-dashoffset="3.01"/><line x1="234.5" y1="26.5" x2="261.5" y2="176.5" stroke-dasharray="4.06,2.03" stroke-dashoffset="0.00"/><line x1="261.5" y1="176.5" x2="289.5" y2="198.5" stroke-dasharray="5.09,2.54" stroke-dashoffset="0.00"/><line x1="289.5" y1="198.5" x2="317.5" y2="134.5" stroke-dasharray="4.37,2.18" stroke-dashoffset="4.37"/><line x1="317.5" y1="134.5" x2="344.5" y2="72.5" stroke-dasharray="4.36,2.18" stroke-dashoffset="2.18"/><line x1="344.5" y1="72.5" x2="372.5" y2="90.5" stroke-dasharray="4.76,2.38" stroke-dashoffset="4.76"/><line x1="372.5" y1="90.5" x2="399.5" y2="335.5" stroke-dasharray="4.02,2.01" stroke-dashoffset="2.01"/><line x1="399.5" y1="335.5" x2="427.5" y2="342.5" stroke-dasharray="4.12,2.06" stroke-dashoffset="1.03"/><line x1="427.5" y1="342.5" x2="454.5" y2="178.5" stroke-dasharray="4.05,2.03" stroke-dashoffset="5.07"/><line x1="454.5" y1="178.5" x2="482.5" y2="317.5" stroke-dasharray="4.08,2.04" stroke-dashoffset="1.02"/><line x1="482.5" y1="317.5" x2="509.5" y2="291.5" stroke-dasharray="5.55,2.78" stroke-dashoffset="2.78"/><line x1="509.5" y1="291.5" x2="537.5" y2="203.5" stroke-dasharray="4.20,2.10" stroke-dashoffset="5.25"/><line x1="537.5" y1="203.5" x2="564.5" y2="225.5" stroke-dasharray="5.16,2.58" stroke-dashoffset="3.87"/><line x1="564.5" y1="225.5" x2="592.5" y2="335.5" stroke-dasharray="4.13,2.06" stroke-dashoffset="0.00"/></g>
<g stroke="#00f0f0" fill="none"><line x1="69.5" y1="96.5" x2="96.5" y2="276.5" stroke-dasharray="1.01,2.02" stroke-dashoffset="0.00"/><line x1="96.5" y1="276.5" x2="124.5" y2="274.5" stroke-dasharray="1.00,2.01" stroke-dashoffset="0.00"/><line x1="124.5" y1="274.5" x2="151.5" y2="175.5" stroke-dasharray="1.04,2.07" stroke-dashoffset="1.04"/><line x1="151.5" y1="175.5" x2="179.5" y2="270.5" stroke-dasharray="1.04,2.09" stroke-dashoffset="1.04"/><line x1="179.5" y1="270.5" x2="206.5" y2="132.5" stroke-dasharray="1.02,2.04" stroke-dashoffset="0.00"/><line x1="206.5" y1="132.5" x2="234.5" y2="193.5" stroke-dasharray="1.10,2.20" stroke-dashoffset="0.00"/><line x1="234.5" y1="193.5" x2="261.5" y2="161.5" stroke-dasharray="1.31,2.62" stroke-dashoffset="1.31"/><line x1="261.5" y1="161.5" x2="289.5" y2="176.5" stroke-dasharray="1.13,2.27" stroke-dashoffset="0.00"/><line x1="289.5" y1="176.5" x2="317.5" y2="259.5" stroke-dasharray="1.06,2.11" stroke-dashoffset="1.06"/><line x1="317.5" y1="259.5" x2="344.5" y2="187.5" stroke-dasharray="1.07,2.14" stroke-dashoffset="0.00"/><line x1="344.5" y1="187.5" x2="372.5" y2="317.5" stroke-dasharray="1.02,2.05" stroke-dashoffset="0.00"/><line x1="372.5" y1="317.5" x2="399.5" y2="196.5" stroke-dasharray="1.02,2.05" stroke-dashoffset="1.02"/><line x1="399.5" y1="196.5" x2="427.5" y2="46.5" stroke-dasharray="1.02,2.03" stroke-dashoffset="2.03"/><line x1="427.5" y1="46.5" x2="454.5" y2="99.5" stroke-dasharray="1.12,2.24" stroke-dashoffset="2.24"/><line x1="454.5" y1="99.5" x2="482.5" y2="165.5" stroke-dasharray="1.09,2.17" stroke-dashoffset="1.09"/><line x1="482.5" y1="165.5" x2="509.5" y2="211.5" stroke-dasharray="1.16,2.32" stroke-dashoffset="1.16"/><line x1="509.5" y1="211.5" x2="537.5" y2="251.5" stroke-dasharray="1.22,2.44" stroke-dashoffset="2.44"/><line x1="537.5" y1="251.5" x2="564.5" y2="311.5" stroke-dasharray="1.10,2.19" stroke-dashoffset="0.00"/><line x1="564.5" y1="311.5" x2="592.5" y2="141.5" stroke-dasharray="1.01,2.03" stroke-dashoffset="0.00"/></g>
<g stroke="#e67e12" fill="none"><line x1="69.5" y1="22.5" x2="96.5" y2="81.5" stroke-dasharray="4.40,2.20,1.10,2.20" stroke-dashoffset="0.00"/><line x1="96.5" y1="81.5" x2="124.5" y2="76.5" stroke-dasharray="4.06,2.03,1.02,2.03" stroke-dashoffset="5.08"/><line x1="124.5" y1="76.5" x2="151.5" y2="208.5" stroke-dasharray="4.08,2.04,1.02,2.04" stroke-dashoffset="6.12"/><line x1="151.5" y1="208.5" x2="179.5" y2="72.5" stroke-dasharray="4.08,2.04,1.02,2.04" stroke-dashoffset="3.06"/><line x1="179.5" y1="72.5" x2="206.5" y2="323.5" stroke-dasharray="4.02,2.01,1.01,2.01" stroke-dashoffset="4.02"/><line x1="206.5" y1="323.5" x2="234.5" y2="79.5" stroke-dasharray="4.03,2.01,1.01,2.01" stroke-dashoffset="3.02"/><line x1="234.5" y1="79.5" x2="261.5" y2="212.5" stroke-dasharray="4.08,2.04,1.02,2.04" stroke-dashoffset="4.08"/><line x1="261.5" y1="212.5" x2="289.5" y2="158.5" stroke-dasharray="4.51,2.25,1.13,2.25" stroke-dashoffset="2.25"/><line x1="289.5" y1="158.5" x2="317.5" y2="200.5" stroke-dasharray="4.81,2.40,1.20,2.40" stroke-dashoffset="2.40"/><line x1="317.5" y1="200.5" x2="344.5" y2="152.5" stroke-dasharray="4.59,2.29,1.15,2.29" stroke-dashoffset="9.18"/><line x1="344.5" y1="152.5" x2="372.5" y2="302.5" stroke-dasharray="4.07,2.03,1.02,2.03" stroke-dashoffset="2.03"/><line x1="372.5" y1="302.5" x2="399.5" y2="198.5" stroke-dasharray="4.13,2.07,1.03,2.07" stroke-dashoffset="8.27"/><line x1="399.5" y1="198.5" x2="427.5" y2="63.5" stroke-dasharray="4.09,2.04,1.02,2.04" stroke-dashoffset="4.09"/><line x1="427.5" y1="63.5" x2="454.5" y2="93.5" stroke-dasharray="5.38,2.69,1.35,2.69" stroke-dashoffset="5.38"/><line x1="454.5" y1="93.5" x2="482.5" y2="77.5" stroke-dasharray="4.61,2.30,1.15,2.30" stroke-dashoffset="8.06"/><line x1="482.5" y1="77.5" x2="509.5" y2="163.5" stroke-dasharray="4.19,2.10,1.05,2.10" stroke-dashoffset="8.39"/><line x1="509.5" y1="163.5" x2="537.5" y2="230.5" stroke-dasharray="4.34,2.17,1.08,2.17" stroke-dashoffset="4.34"/><line x1="537.5" y1="230.5" x2="564.5" y2="96.5" stroke-dasharray="4.08,2.04,1.02,2.04" stroke-dashoffset="8.16"/><line x1="564.5" y1="96.5" x2="592.5" y2="12.5" stroke-dasharray="4.22,2.11,1.05,2.11" stroke-dashoffset="7.38"/></g>
<g stroke="#0f7cff" fill="none"><line x1="69.5" y1="213.5" x2="96.5" y2="250.5" stroke-dasharray="4.95,2.48,1.24,2.48,1.24,2.48" stroke-dashoffset="0.00"/><line x1="96.5" y1="250.5" x2="124.5" y2="158.5" stroke-dasharray="4.18,2.09,1.05,2.09,1.05,2.09" stroke-dashoffset="1.05"/><line x1="124.5" y1="158.5" x2="151.5" y2="317.5" stroke-dasharray="4.06,2.03,1.01,2.03,1.01,2.03" stroke-dashoffset="9.13"/><line x1="151.5" y1="317.5" x2="179.5" y2="96.5" stroke-dasharray="4.03,2.02,1.01,2.02,1.01,2.02" stroke-dashoffset="0.00"/><line x1="179.5" y1="96.5" x2="206.5" y2="108.5" stroke-dasharray="4.38,2.19,1.09,2.19,1.09,2.19" stroke-dashoffset="5.47"/><line x1="206.5" y1="108.5" x2="234.5" y2="62.5" stroke-dasharray="4.68,2.34,1.17,2.34,1.17,2.34" stroke-dashoffset="9.37"/><line x1="234.5" y1="62.5" x2="261.5" y2="329.5" stroke-dasharray="4.02,2.01,1.01,2.01,1.01,2.01" stroke-dashoffset="6.03"/><line x1="261.5" y1="329.5" x2="289.5" y2="344.5" stroke-dasharray="4.54,2.27,1.13,2.27,1.13,2.27" stroke-dashoffset="10.21"/><line x1="289.5" y1="344.5" x2="317.5" y2="20.5" stroke-dasharray="4.01,2.01,1.00,2.01,1.00,2.01" stroke-dashoffset="1.00"/><line x1="317.5" y1="20.5" x2="344.5" y2="103.5" stroke-dasharray="4.21,2.10,1.05,2.10,1.05,2.10" stroke-dashoffset="1.05"/><line x1="344.5" y1="103.5" x2="372.5" y2="62.5" stroke-dasharray="4.84,2.42,1.21,2.42,1.21,2.42" stroke-dashoffset="0.00"/><line x1="372.5" y1="62.5" x2="399.5" y2="343.5" stroke-dasharray="4.02,2.01,1.00,2.01,1.00,2.01" stroke-dashoffset="5.02"/><line x1="399.5" y1="343.5" x2="427.5" y2="316.5" stroke-dasharray="5.56,2.78,1.39,2.78,1.39,2.78" stroke-dashoffset="13.89"/><line x1="427.5" y1="316.5" x2="454.5" y2="257.5" stroke-dasharray="4.40,2.20,1.10,2.20,1.10,2.20" stroke-dashoffset="2.20"/><line x1="454.5" y1="257.5" x2="482.5" y2="154.5" stroke-dasharray="4.15,2.07,1.04,2.07,1.04,2.07" stroke-dashoffset="1.04"/><line x1="482.5" y1="154.5" x2="509.5" y2="251.5" stroke-dasharray="4.15,2.08,1.04,2.08,1.04,2.08" stroke-dashoffset="8.30"/><line x1="509.5" y1="251.5" x2="537.5" y2="341.5" stroke-dasharray="4.19,2.09,1.05,2.09,1.05,2.09" stroke-dashoffset="9.43"/><line x1="537.5" y1="341.5" x2="564.5" y2="262.5" stroke-dasharray="4.23,2.11,1.06,2.11,1.06,2.11" stroke-dashoffset="3.17"/><line x1="564.5" y1="262.5" x2="592.5" y2="184.5" stroke-dasharray="4.25,2.12,1.06,2.12,1.06,2.12" stroke-dashoffset="10.62"/></g>
</g></svg>
<canvas id="cv" width="600" height="400"></canvas>
<svg width="600" height="400" viewBox="0 0 600 400">
<path fill="#6a6561" shape-rendering="crispEdges" d="M35 0H599V1H598V2H37V350H36V351H35Z"/>
<path fill="#000" d="M32 6h1v340h-1zM24 345h8v1h-8zM28 328h4v1h-4zM28 311h4v1h-4zM28 294h4v1h-4zM24 277h8v1h-8zM28 260h4v1h-4zM28 243h4v1h-4zM28 226h4v1h-4zM24 209h8v1h-8zM28 192h4v1h-4zM28 176h4v1h-4zM28 159h4v1h-4zM24 142h8v1h-8zM28 125h4v1h-4zM28 108h4v1h-4zM28 91h4v1h-4zM24 74h8v1h-8zM28 57h4v1h-4zM28 40h4v1h-4zM28 23h4v1h-4zM24 6h8v1h-8zM41 354h552v1h-552zM41 355h1v8h-1zM69 355h1v4h-1zM96 355h1v4h-1zM124 355h1v4h-1zM151 355h1v4h-1zM179 355h1v8h-1zM206 355h1v4h-1zM234 355h1v4h-1zM261 355h1v4h-1zM289 355h1v4h-1zM317 355h1v8h-1zM344 355h1v4h-1zM372 355h1v4h-1zM399 355h1v4h-1zM427 355h1v4h-1zM454 355h1v8h-1zM482 355h1v4h-1zM509 355h1v4h-1zM537 355h1v4h-1zM564 355h1v4h-1zM592 355h1v8h-1z"/>
<text x="18.5" y="349.5" font-size="13" text-anchor="end">0</text>
<text x="18.5" y="281.5" font-size="13" text-anchor="end">0.2</text>
<text x="18.5" y="213.5" font-size="13" text-anchor="end">0.4</text>
<text x="18.5" y="146.5" font-size="13" text-anchor="end">0.6</text>
<text x="18.5" y="78.5" font-size="13" text-anchor="end">0.8</text>
<text x="18.5" y="10.5" font-size="13" text-anchor="end">1</text>
<text x="41.5" y="377" font-size="13" text-anchor="middle">0</text>
<text x="179.5" y="377" font-size="13" text-anchor="middle">5</text>
<text x="317.5" y="377" font-size="13" text-anchor="middle">10</text>
<text x="454.5" y="377" font-size="13" text-anchor="middle">15</text>
<text x="592.5" y="377" font-size="13" text-anchor="middle">20</text>
<line x1="167.0" y1="388.5" x2="175.0" y2="388.5" stroke="#000000"/>
<text x="179.5" y="392.8" font-size="14.5" textLength="27.5" lengthAdjust="spacingAndGlyphs">solid</text>
<line x1="217.0" y1="388.5" x2="225.0" y2="388.5" stroke="#ff91ff" stroke-dasharray="4,2"/>
<text x="229.2" y="392.8" font-size="14.5" textLength="30.4" lengthAdjust="spacingAndGlyphs">dash</text>
<line x1="269.0" y1="388.5" x2="277.0" y2="388.5" stroke="#00f0f0" stroke-dasharray="1,2"/>
<text x="281.7" y="392.8" font-size="14.5" textLength="19.2" lengthAdjust="spacingAndGlyphs">dot</text>
<line x1="311.0" y1="388.5" x2="318.0" y2="388.5" stroke="#e67e12" stroke-dasharray="4,2,1,2"/>
<text x="323.5" y="392.8" font-size="14.5" textLength="51" lengthAdjust="spacingAndGlyphs">dashdot</text>
<line x1="384.0" y1="388.5" x2="391.0" y2="388.5" stroke="#0f7cff" stroke-dasharray="4,2,1,2,1,2"/>
<text x="396.5" y="392.8" font-size="14.5" textLength="71" lengthAdjust="spacingAndGlyphs">dashdotdot</text>
</svg>
<script>
(function(){
var c=document.getElementById('cv');if(!c||!c.getContext)return;var ctx=c.getContext('2d');if(!ctx)return;
var fb=document.getElementById('fb');if(fb)fb.parentNode.removeChild(fb);
ctx.save();ctx.beginPath();ctx.rect(37,2,560,347);ctx.clip();
var S=[[[0,0,0],null,[[69,202],[96,110],[124,65],[151,78],[179,326],[206,181],[234,132],[261,91],[289,297],[317,84],[344,175],[372,201],[399,254],[427,12],[454,176],[482,39],[509,271],[537,143],[564,137],[592,210]]],[[255,145,255],[4,2],[[69,28],[96,296],[124,191],[151,279],[179,248],[206,317],[234,26],[261,176],[289,198],[317,134],[344,72],[372,90],[399,335],[427,342],[454,178],[482,317],[509,291],[537,203],[564,225],[592,335]]],[[0,240,240],[1,2],[[69,96],[96,276],[124,274],[151,175],[179,270],[206,132],[234,193],[261,161],[289,176],[317,259],[344,187],[372,317],[399,196],[427,46],[454,99],[482,165],[509,211],[537,251],[564,311],[592,141]]],[[230,126,18],[4,2,1,2],[[69,22],[96,81],[124,76],[151,208],[179,72],[206,323],[234,79],[261,212],[289,158],[317,200],[344,152],[372,302],[399,198],[427,63],[454,93],[482,77],[509,163],[537,230],[564,96],[592,12]]],[[15,124,255],[4,2,1,2,1,2],[[69,213],[96,250],[124,158],[151,317],[179,96],[206,108],[234,62],[261,329],[289,344],[317,20],[344,103],[372,62],[399,343],[427,316],[454,257],[482,154],[509,251],[537,341],[564,262],[592,184]]]];
S.forEach(function(s){
 var col=s[0],pat=s[1],pts=s[2],P=0,cum=[],step=0;
 if(pat){for(var i=0;i<pat.length;i++){P+=pat[i];cum.push(P);}}
 function on(){if(!pat)return true;var q=step%P;for(var i=0;i<cum.length;i++){if(q<cum[i])return i%2==0;}return true;}
 function plot(x,y,a){if(a<=0.003)return;ctx.fillStyle='rgba('+col[0]+','+col[1]+','+col[2]+','+a.toFixed(3)+')';ctx.fillRect(x,y,1,1);}
 for(var k=0;k<pts.length-1;k++){
  var x1=pts[k][0],y1=pts[k][1],x2=pts[k+1][0],y2=pts[k+1][1],dx=x2-x1,dy=y2-y1,last=(k==pts.length-2);
  if(Math.abs(dx)>=Math.abs(dy)){
   var n=Math.abs(dx),sx=dx>0?1:-1,gr=n?dy/n:0,cnt=last?n+1:n;
   for(var i=0;i<cnt;i++){if(on()){var y=y1+gr*i,r=Math.floor(y),f=y-r;plot(x1+sx*i,r,1-f);plot(x1+sx*i,r+1,f);}step++;}
  }else{
   var n=Math.abs(dy),sy=dy>0?1:-1,gr=dx/n,cnt=last?n+1:n;
   for(var i=0;i<cnt;i++){if(on()){var x=x1+gr*i,r=Math.floor(x),f=x-r;plot(r,y1+sy*i,1-f);plot(r+1,y1+sy*i,f);}step++;}
  }
 }
});
ctx.restore();
})();
</script>
</body></html>
